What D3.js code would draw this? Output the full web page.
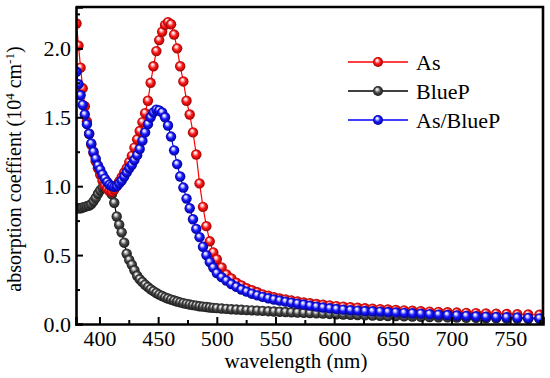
<!DOCTYPE html>
<html>
<head>
<meta charset="utf-8">
<script src="https://cdn.jsdelivr.net/npm/d3@7"></script>
<style>
  body { margin: 0; background: #fff; }
</style>
</head>
<body>
<script>
// data
var wavelength = [380.4, 382.1, 383.9, 385.7, 387.5, 389.3, 391.2, 393.0, 394.9, 396.8,
  398.7, 400.6, 402.6, 404.6, 406.6, 408.6, 410.6, 412.6, 414.7, 416.8,
  418.9, 421.1, 423.2, 425.4, 427.6, 429.8, 432.1, 434.3, 436.6, 438.9,
  441.3, 443.6, 446.0, 448.5, 450.9, 453.4, 455.9, 458.4, 461.0, 463.6,
  466.2, 468.8, 471.5, 474.2, 476.9, 479.7, 482.5, 485.3, 488.2, 491.1,
  494.0, 497.0,
  500.0, 504.1, 508.2, 512.4, 516.7, 521.0, 525.4, 529.9, 534.5, 539.1,
  543.9, 548.7, 553.6, 558.6, 563.6, 568.8, 574.1, 579.4, 584.9, 590.5,
  596.2, 601.9, 607.8, 613.9, 620.0, 626.3, 632.7, 639.2, 645.8, 652.6,
  659.6, 666.7, 673.9, 681.3, 688.9, 696.6, 704.5, 712.6, 720.9, 729.4,
  738.1, 747.0, 756.1, 765.4, 775.0];

var asValues = [2.18, 2.02, 1.86, 1.71, 1.58, 1.47, 1.38, 1.30, 1.24, 1.18,
  1.13, 1.085, 1.04, 1.005, 0.98, 0.965, 0.96, 0.975, 1.00, 1.035,
  1.065, 1.10, 1.13, 1.175, 1.22, 1.28, 1.34, 1.40, 1.465, 1.53,
  1.62, 1.75, 1.87, 1.98, 2.06, 2.12, 2.17, 2.19, 2.175, 2.10,
  2.00, 1.87, 1.76, 1.62, 1.52, 1.39, 1.23, 1.02, 0.85, 0.71,
  0.60, 0.52,
  0.47, 0.41, 0.36, 0.33, 0.30, 0.28, 0.26, 0.245, 0.23, 0.215,
  0.205, 0.195, 0.185, 0.178, 0.17, 0.163, 0.157, 0.151, 0.145, 0.14,
  0.135, 0.13, 0.126, 0.122, 0.118, 0.114, 0.111, 0.108, 0.105, 0.102,
  0.099, 0.096, 0.093, 0.09, 0.088, 0.085, 0.083, 0.081, 0.079, 0.077,
  0.075, 0.073, 0.071, 0.069, 0.067];

var bluePValues = [0.84, 0.84, 0.84, 0.845, 0.85, 0.855, 0.86, 0.87, 0.89, 0.915,
  0.945, 0.97, 0.99, 0.995, 0.985, 0.965, 0.94, 0.88, 0.78, 0.72,
  0.665, 0.59, 0.51, 0.465, 0.43, 0.39, 0.35, 0.325, 0.305, 0.285,
  0.268, 0.252, 0.238, 0.225, 0.213, 0.203, 0.193, 0.185, 0.177, 0.17,
  0.163, 0.157, 0.151, 0.146, 0.141, 0.137, 0.133, 0.129, 0.126, 0.123,
  0.12, 0.117,
  0.115, 0.112, 0.11, 0.107, 0.105, 0.103, 0.101, 0.099, 0.097, 0.095,
  0.093, 0.091, 0.089, 0.087, 0.085, 0.083, 0.081, 0.079, 0.077, 0.075,
  0.073, 0.071, 0.069, 0.067, 0.065, 0.063, 0.061, 0.06, 0.058, 0.057,
  0.055, 0.054, 0.052, 0.051, 0.049, 0.048, 0.046, 0.045, 0.044, 0.042,
  0.041, 0.04, 0.039, 0.038, 0.037];

var asBluePValues = [1.83, 1.74, 1.66, 1.59, 1.52, 1.45, 1.38, 1.31, 1.25, 1.20,
  1.15, 1.12, 1.085, 1.055, 1.03, 1.01, 1.00, 0.995, 1.00, 1.02,
  1.04, 1.07, 1.10, 1.13, 1.155, 1.19, 1.225, 1.27, 1.33, 1.39,
  1.45, 1.50, 1.535, 1.555, 1.55, 1.535, 1.50, 1.44, 1.36, 1.26,
  1.16, 1.07, 0.99, 0.91, 0.84, 0.76, 0.69, 0.63, 0.56, 0.50,
  0.45, 0.41,
  0.37, 0.34, 0.315, 0.29, 0.27, 0.25, 0.235, 0.22, 0.208, 0.197,
  0.187, 0.178, 0.17, 0.162, 0.155, 0.148, 0.141, 0.133, 0.126, 0.12,
  0.114, 0.109, 0.104, 0.10, 0.097, 0.094, 0.092, 0.09, 0.087, 0.084,
  0.081, 0.078, 0.075, 0.072, 0.068, 0.065, 0.062, 0.059, 0.056, 0.053,
  0.051, 0.049, 0.047, 0.044, 0.041];

var seriesNames = ["As", "BlueP", "As/BlueP"];
var xMajorTicks = [400, 450, 500, 550, 600, 650, 700, 750];
var xMinorTicks = [425, 475, 525, 575, 625, 675, 725, 775];
var yMajorTicks = [0.0, 0.5, 1.0, 1.5, 2.0];
var yMinorTicks = [0.25, 0.75, 1.25, 1.75, 2.25];

var FONT = "'Liberation Serif', 'Times New Roman', 'DejaVu Serif', serif";

// svg set up
var margin = {top: 7, right: 7, bottom: 54, left: 76},
  width = 550 - margin.left - margin.right,
  height = 378 - margin.top - margin.bottom;

var svg = d3.select("body").append("svg")
  .attr("width", 550)
  .attr("height", 378)
  .attr("font-family", FONT)
  .style("font-family", FONT);

var defs = svg.append("defs");

// sphere-like markers
var looks = {
  "As":       {line: "#ff0000", light: "#ffd0d0", base: "#ff1a1a", dark: "#a00000"},
  "BlueP":    {line: "#000000", light: "#d0d0d0", base: "#4a4a4a", dark: "#1a1a1a"},
  "As/BlueP": {line: "#0000ff", light: "#d0d0ff", base: "#1a1aff", dark: "#00009a"}
};
seriesNames.forEach(function(name, i) {
  var g = defs.append("radialGradient")
    .attr("id", "ball" + i)
    .attr("cx", "50%").attr("cy", "50%").attr("r", "50%")
    .attr("fx", "38%").attr("fy", "30%");
  g.append("stop").attr("offset", "0%").attr("stop-color", "#ffffff");
  g.append("stop").attr("offset", "22%").attr("stop-color", looks[name].light);
  g.append("stop").attr("offset", "55%").attr("stop-color", looks[name].base);
  g.append("stop").attr("offset", "100%").attr("stop-color", looks[name].dark);
});

defs.append("clipPath").attr("id", "plotClip")
  .append("rect").attr("x", 0).attr("y", 0).attr("width", width).attr("height", height);

var plot = svg.append("g")
  .attr("transform", "translate(" + margin.left + "," + margin.top + ")");

var x = d3.scaleLinear()
  .domain([380, 778])
  .range([0, width]);

var y = d3.scaleLinear()
  .domain([0, 2.3])
  .range([height, 0]);

var series = [
  {name: "BlueP", idx: 1, values: bluePValues},
  {name: "As", idx: 0, values: asValues},
  {name: "As/BlueP", idx: 2, values: asBluePValues}
];

var line = d3.line()
  .x(function(d) { return x(d[0]); })
  .y(function(d) { return y(d[1]); });

var marks = plot.append("g").attr("clip-path", "url(#plotClip)");

series.forEach(function(s) {
  var pts = wavelength.map(function(w, i) { return [w, s.values[i]]; });
  var g = marks.append("g");
  g.append("path")
    .datum(pts)
    .attr("d", line)
    .attr("fill", "none")
    .attr("stroke", looks[s.name].line)
    .attr("stroke-width", 1.2);
  g.selectAll("circle")
    .data(pts)
    .enter()
    .append("circle")
    .attr("cx", function(d) { return x(d[0]); })
    .attr("cy", function(d) { return y(d[1]); })
    .attr("r", 5.2)
    .attr("fill", "url(#ball" + s.idx + ")");
});

// axes
var axes = [];
axes.push(plot.append("g")
  .attr("transform", "translate(0," + height + ")")
  .call(d3.axisBottom(x).tickValues(xMajorTicks).tickSize(-7).tickPadding(6).tickFormat(d3.format("d"))));
axes.push(plot.append("g")
  .attr("transform", "translate(0," + height + ")")
  .call(d3.axisBottom(x).tickValues(xMinorTicks).tickSize(-4).tickFormat("")));
axes.push(plot.append("g")
  .call(d3.axisLeft(y).tickValues(yMajorTicks).tickSize(-7).tickPadding(5).tickFormat(d3.format(".1f"))));
axes.push(plot.append("g")
  .call(d3.axisLeft(y).tickValues(yMinorTicks).tickSize(-4).tickFormat("")));
axes[1].select(".domain").remove();
axes[3].select(".domain").remove();
axes.forEach(function(a) {
  a.attr("font-family", FONT).attr("font-size", 22);
});

plot.selectAll(".tick line").attr("stroke", "#000").attr("stroke-width", 2);
plot.selectAll(".domain").attr("stroke", "#000").attr("stroke-width", 2.6);
plot.selectAll(".tick text")
  .attr("fill", "#000")
  .attr("font-family", FONT)
  .style("font-family", FONT)
  .style("font-size", "22px");

// frame top + right
plot.append("path")
  .attr("d", "M0,0H" + width + "V" + height)
  .attr("fill", "none")
  .attr("stroke", "#000")
  .attr("stroke-width", 2.6);

// axis titles
svg.append("text")
  .attr("x", 296)
  .attr("y", 368)
  .attr("text-anchor", "middle")
  .attr("font-family", FONT)
  .style("font-family", FONT)
  .style("font-size", "21px")
  .text("wavelength (nm)");

var yTitle = svg.append("text")
  .attr("transform", "translate(21,169) rotate(-90)")
  .attr("text-anchor", "middle")
  .attr("font-family", FONT)
  .style("font-family", FONT)
  .style("font-size", "20px");
yTitle.append("tspan").text("absorption coeffient (10");
yTitle.append("tspan").attr("dy", -7).style("font-size", "13px").text("4");
yTitle.append("tspan").attr("dy", 7).text(" cm");
yTitle.append("tspan").attr("dy", -7).style("font-size", "13px").text("-1");
yTitle.append("tspan").attr("dy", 7).text(")");

// legend
var legend = svg.append("g");
seriesNames.forEach(function(name, i) {
  var ly = 62 + i * 29;
  legend.append("line")
    .attr("x1", 348).attr("x2", 408)
    .attr("y1", ly).attr("y2", ly)
    .attr("stroke", looks[name].line)
    .attr("stroke-width", 1.6);
  legend.append("circle")
    .attr("cx", 378).attr("cy", ly).attr("r", 5)
    .attr("fill", "url(#ball" + i + ")");
  legend.append("text")
    .attr("x", 416).attr("y", ly)
    .attr("dy", "0.35em")
    .attr("font-family", FONT)
    .style("font-family", FONT)
    .style("font-size", "22px")
    .text(name);
});
</script>
</body>
</html>
